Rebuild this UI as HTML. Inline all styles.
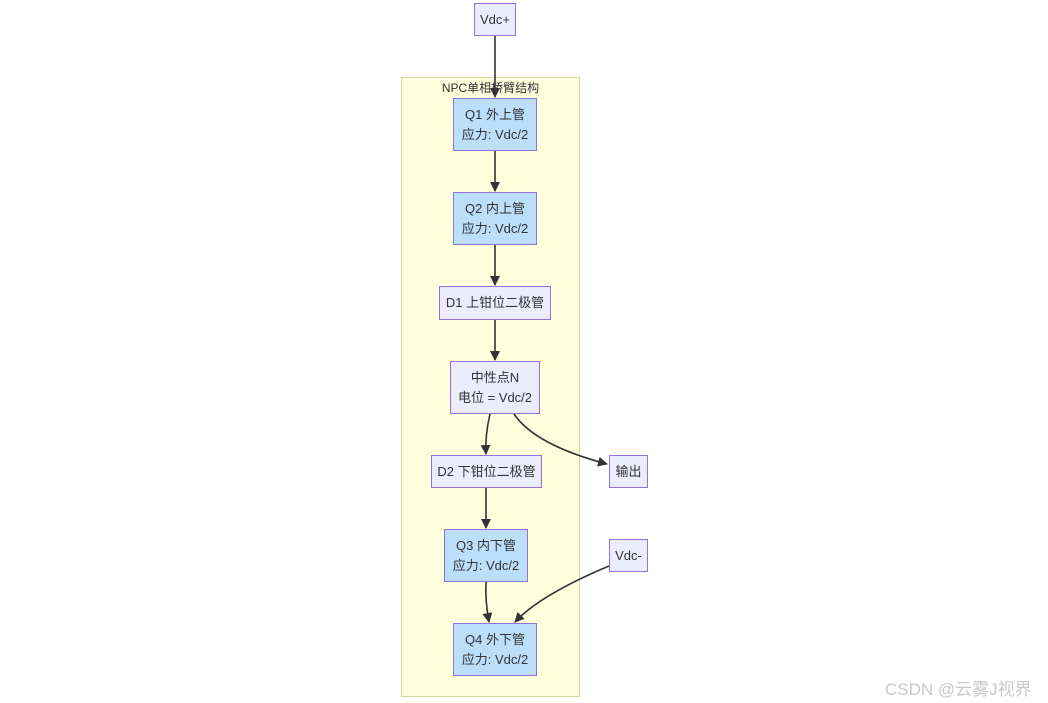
<!DOCTYPE html>
<html><head><meta charset="utf-8"><style>
body{margin:0;width:1048px;height:703px;background:#fff;position:relative;overflow:hidden;font-family:"Liberation Sans","Noto Sans CJK SC",sans-serif;}
.n{position:absolute;box-sizing:border-box;border:1px solid #9370DB;background:#ECECFF;color:#333;font-size:13px;line-height:20px;display:flex;flex-direction:column;align-items:center;justify-content:center;text-align:center;white-space:nowrap}
.b{background:#BBDEFB}
svg{position:absolute;left:0;top:0}
</style></head><body>
<div style="position:absolute;left:401px;top:77px;width:179px;height:620px;box-sizing:border-box;background:#FFFFDE;border:1px solid #d5d59a"></div>
<div style="position:absolute;left:401px;top:79px;width:179px;text-align:center;font-size:12px;color:#333">NPC单相桥臂结构</div>
<svg width="1048" height="703">
<defs><marker id="a" markerWidth="10" markerHeight="10" refX="9" refY="5" orient="auto" markerUnits="userSpaceOnUse"><path d="M0,0L10,5L0,10z" fill="#333"/></marker></defs>
<g stroke="#333" stroke-width="1.6" fill="none" marker-end="url(#a)">
<path d="M495,36V97"/>
<path d="M495,151V191"/>
<path d="M495,245V285"/>
<path d="M495,320V360"/>
<path d="M490,414Q485,435 486,454"/>
<path d="M514,414Q535,445 607,464"/>
<path d="M486,488V528"/>
<path d="M486,582Q485,600 489,622"/>
<path d="M609,566Q540,595 515,622"/>
</g></svg>
<div class="n" style="left:474px;top:3px;width:42px;height:33px">Vdc+</div>
<div class="n b" style="left:453px;top:98px;width:84px;height:53px"><div>Q1 外上管</div><div>应力: Vdc/2</div></div>
<div class="n b" style="left:453px;top:192px;width:84px;height:53px"><div>Q2 内上管</div><div>应力: Vdc/2</div></div>
<div class="n" style="left:439px;top:286px;width:112px;height:34px">D1 上钳位二极管</div>
<div class="n" style="left:450px;top:361px;width:90px;height:53px"><div>中性点N</div><div>电位 = Vdc/2</div></div>
<div class="n" style="left:431px;top:455px;width:111px;height:33px">D2 下钳位二极管</div>
<div class="n" style="left:609px;top:455px;width:39px;height:33px">输出</div>
<div class="n b" style="left:444px;top:529px;width:84px;height:53px"><div>Q3 内下管</div><div>应力: Vdc/2</div></div>
<div class="n" style="left:609px;top:539px;width:39px;height:33px">Vdc-</div>
<div class="n b" style="left:453px;top:623px;width:84px;height:53px"><div>Q4 外下管</div><div>应力: Vdc/2</div></div>
<div style="position:absolute;left:885px;top:675px;font-size:17px;color:#c8c8c8">CSDN @云雾J视界</div>
</body></html>
